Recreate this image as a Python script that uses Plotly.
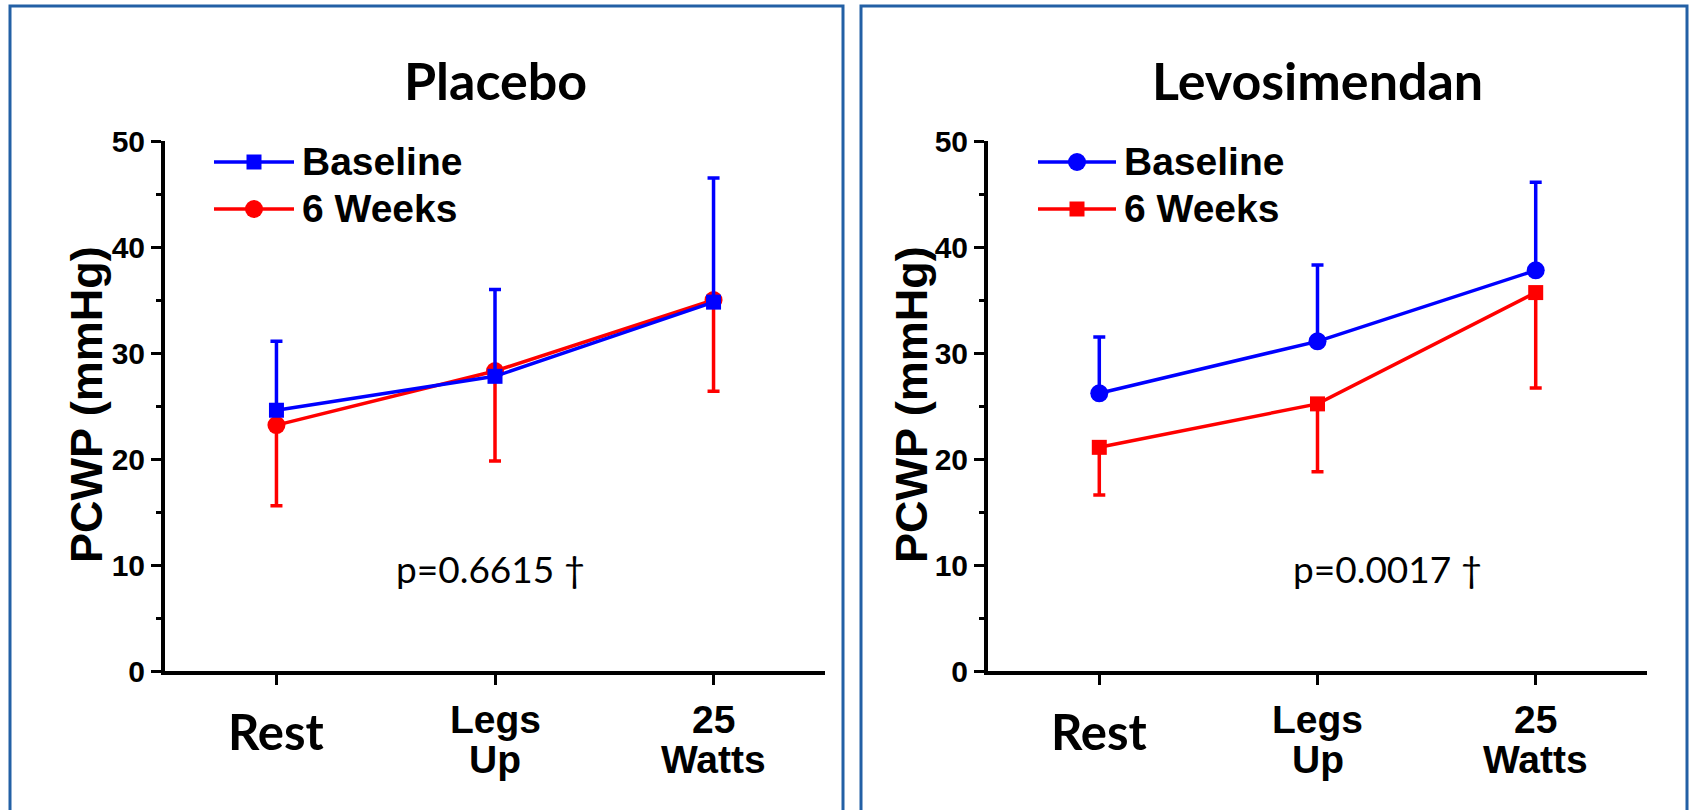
import plotly.graph_objects as go

W, H = 1696, 810

categories = ["Rest", "Legs Up", "25 Watts"]

# Placebo panel
placebo_baseline = [24.6, 27.8, 34.8]
placebo_baseline_sd = [6.5, 8.2, 11.7]
placebo_6wk = [23.2, 28.3, 35.0]
placebo_6wk_sd = [7.6, 8.5, 8.6]

# Levosimendan panel
levo_baseline = [26.2, 31.1, 37.8]
levo_baseline_sd = [5.3, 7.2, 8.3]
levo_6wk = [21.1, 25.2, 35.7]
levo_6wk_sd = [4.5, 6.4, 9.0]

panel_titles = ["Placebo", "Levosimendan"]
p_values = ["p=0.6615 †", "p=0.0017 †"]
series_names = ["Baseline", "6 Weeks"]

BLUE = "#0000FF"
RED = "#FF0000"
BORDER = "#2360a5"
ARIAL = "Arial, Liberation Sans, sans-serif"
CALIBRI = "Lato, Open Sans, sans-serif"

def px_x(p):
    return p / W

def px_y(p):
    return 1 - p / H

fig = go.Figure()

def add_series(xa, ya, y, sd, color, symbol, size, up):
    err = dict(type="data", symmetric=False, color=color, thickness=3.5, width=6)
    if up:
        err["array"] = sd
        err["arrayminus"] = [0] * len(sd)
    else:
        err["array"] = [0] * len(sd)
        err["arrayminus"] = sd
    fig.add_trace(go.Scatter(
        x=categories, y=y, xaxis=xa, yaxis=ya, mode="lines+markers",
        line=dict(color=color, width=3.5),
        marker=dict(color=color, symbol=symbol, size=size),
        error_y=err, showlegend=False, hoverinfo="skip"))

# Placebo: red circles (6 wk) first, blue squares (baseline) on top
add_series("x", "y", placebo_6wk, placebo_6wk_sd, RED, "circle", 18, False)
add_series("x", "y", placebo_baseline, placebo_baseline_sd, BLUE, "square", 15, True)
# Levosimendan: blue circles baseline, red squares 6 wk
add_series("x2", "y2", levo_baseline, levo_baseline_sd, BLUE, "circle", 18, True)
add_series("x2", "y2", levo_6wk, levo_6wk_sd, RED, "square", 15, False)

domains = [[px_x(165), px_x(825)], [px_x(988), px_x(1647)]]
ydom = [px_y(671), px_y(141)]

xcommon = dict(type="category", categoryorder="array", categoryarray=categories,
               range=[-0.51, 2.51], showline=True, linecolor="black", linewidth=4,
               ticks="outside", ticklen=10, tickwidth=3, tickcolor="black",
               showticklabels=False, showgrid=False, zeroline=False, fixedrange=True,
               automargin=False)
ycommon = dict(range=[0, 50], showline=True, linecolor="black", linewidth=4,
               ticks="outside", ticklen=10, tickwidth=3, tickcolor="black",
               tickvals=[0, 10, 20, 30, 40, 50],
               tickfont=dict(family=ARIAL, size=30, color="black", weight="bold"),
               minor=dict(tickvals=[5, 15, 25, 35, 45], ticks="outside", ticklen=5,
                          tickwidth=3, tickcolor="black"),
               showgrid=False, zeroline=False, fixedrange=True, automargin=False)

fig.update_layout(
    xaxis=dict(domain=domains[0], anchor="y", **xcommon),
    yaxis=dict(domain=ydom, anchor="x", **ycommon),
    xaxis2=dict(domain=domains[1], anchor="y2", **xcommon),
    yaxis2=dict(domain=ydom, anchor="x2", **ycommon),
)

annotations = []
shapes = []

# panel borders
shapes.append(dict(type="rect", xref="paper", yref="paper", x0=px_x(10), x1=px_x(843),
                   y0=px_y(830), y1=px_y(6), line=dict(color=BORDER, width=3), layer="below"))
shapes.append(dict(type="rect", xref="paper", yref="paper", x0=px_x(861), x1=px_x(1687),
                   y0=px_y(830), y1=px_y(6), line=dict(color=BORDER, width=3), layer="below"))

ytitle_x = [86, 911]
legend_line = [(214, 294), (1038, 1116)]
legend_text_x = [300, 1122]
legend_rows = [162, 209]
# marker symbols in legend per panel: (baseline, 6wk)
legend_symbols = [("square", "circle"), ("circle", "square")]

for i in range(2):
    xa = "x" if i == 0 else "x2"
    ya = "y" if i == 0 else "y2"
    # title
    annotations.append(dict(text=panel_titles[i], xref=f"{xa} domain", x=0.5,
                            yref="paper", y=px_y(80), showarrow=False,
                            font=dict(family=CALIBRI, size=52, color="black", weight="bold"),
                            xanchor="center", yanchor="middle"))
    # y-axis title
    annotations.append(dict(text="PCWP (mmHg)", xref="paper", x=px_x(ytitle_x[i]),
                            yref="paper", y=px_y(405), showarrow=False, textangle=-90,
                            font=dict(family=ARIAL, size=45, color="black", weight="bold"),
                            xanchor="center", yanchor="middle"))
    # category labels
    annotations.append(dict(text="Rest", xref=xa, x=categories[0], yref="paper", y=px_y(731),
                            showarrow=False, xanchor="center", yanchor="middle",
                            font=dict(family=CALIBRI, size=49, color="black", weight="bold")))
    for cat, lines in [(categories[1], ["Legs", "Up"]), (categories[2], ["25", "Watts"])]:
        for ln, yy in zip(lines, [719, 759]):
            annotations.append(dict(text=ln, xref=xa, x=cat, yref="paper", y=px_y(yy),
                                    showarrow=False, xanchor="center", yanchor="middle",
                                    font=dict(family=ARIAL, size=39, color="black", weight="bold")))
    # p-value
    annotations.append(dict(text=p_values[i], xref=xa, x=0.98 if i == 0 else 1.32,
                            yref=ya, y=9.7, showarrow=False, xanchor="center", yanchor="middle",
                            font=dict(family=CALIBRI, size=37, color="black")))
    # legend
    for r, (name, color) in enumerate(zip(series_names, [BLUE, RED])):
        yy = legend_rows[r]
        x0, x1 = legend_line[i]
        shapes.append(dict(type="line", xref="paper", yref="paper", x0=px_x(x0), x1=px_x(x1),
                           y0=px_y(yy), y1=px_y(yy), line=dict(color=color, width=3.5)))
        cx = (x0 + x1) / 2
        sym = legend_symbols[i][r]
        if sym == "square":
            hs = 7.5
            shapes.append(dict(type="rect", xref="paper", yref="paper",
                               x0=px_x(cx - hs), x1=px_x(cx + hs), y0=px_y(yy + hs), y1=px_y(yy - hs),
                               fillcolor=color, line=dict(width=0)))
        else:
            hs = 9
            shapes.append(dict(type="circle", xref="paper", yref="paper",
                               x0=px_x(cx - hs), x1=px_x(cx + hs), y0=px_y(yy + hs), y1=px_y(yy - hs),
                               fillcolor=color, line=dict(width=0)))
        annotations.append(dict(text=name, xref="paper", x=px_x(legend_text_x[i]),
                                yref="paper", y=px_y(yy), showarrow=False,
                                xanchor="left", yanchor="middle",
                                font=dict(family=ARIAL, size=39, color="black", weight="bold")))

fig.update_layout(
    width=W, height=H, margin=dict(l=0, r=0, t=0, b=0, pad=0, autoexpand=False),
    paper_bgcolor="white", plot_bgcolor="white",
    annotations=annotations, shapes=shapes, showlegend=False,
)

fig.write_html("out.html", config={"displayModeBar": False},
               post_script="document.body.style.margin='0';document.body.style.overflow='hidden';")
